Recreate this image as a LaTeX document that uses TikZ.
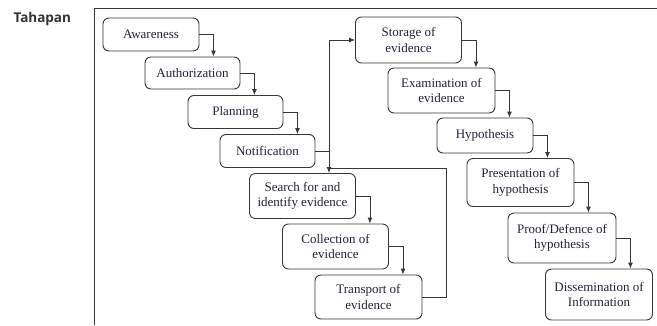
\documentclass[tikz,border=0pt]{standalone}
\usepackage{fontspec}
\setmainfont{Liberation Serif}
\newfontfamily\labelfont{Open Sans}
\usetikzlibrary{arrows.meta}
\definecolor{txt}{RGB}{35,35,55}
\definecolor{edge}{RGB}{55,55,55}
\tikzset{
  stage/.style={draw=edge, line width=0.9pt, rounded corners=6pt, fill=white,
    align=center, inner sep=1pt, text=txt, font=\fontsize{13}{15.5}\selectfont},
  arr/.style={draw=edge, line width=0.9pt, -{Latex[length=6pt,width=5pt]}},
  frame/.style={draw=edge, line width=0.9pt}
}
\begin{document}
\begin{tikzpicture}[x=1pt,y=-1pt]
\useasboundingbox (0,0) rectangle (657,325);
\node[anchor=base west, font=\labelfont\bfseries\fontsize{13.5}{16}\selectfont, text=black!80] (tah) at (10,22) {Tahapan};
\draw[frame] (94,325) -- (94,8) -- (657,8);
% left column
\node[stage, minimum width=96, minimum height=33] (aw) at (151,34.5) {Awareness};
\node[stage, minimum width=95, minimum height=32] (au) at (192.5,73) {Authorization};
\node[stage, minimum width=95, minimum height=33] (pl) at (235.5,112) {Planning};
\node[stage, minimum width=95, minimum height=33] (no) at (267.5,151) {Notification};
\node[stage, minimum width=106, minimum height=45] (se) at (302.5,196) {Search for and\\identify evidence};
\node[stage, minimum width=106, minimum height=45] (co) at (335.5,246.5) {Collection of\\evidence};
\node[stage, minimum width=107, minimum height=44] (tr) at (368.5,297) {Transport of\\evidence};
% right column
\node[stage, minimum width=106, minimum height=46] (st) at (408.5,40) {Storage of\\evidence};
\node[stage, minimum width=107, minimum height=45] (ex) at (441.5,90.5) {Examination of\\evidence};
\node[stage, minimum width=96, minimum height=35] (hy) at (485,135.5) {Hypothesis};
\node[stage, minimum width=107, minimum height=48] (pr) at (520.5,182.5) {Presentation of\\hypothesis};
\node[stage, minimum width=108, minimum height=50] (pd) at (562,238) {Proof/Defence of\\hypothesis};
\node[stage, minimum width=107, minimum height=51] (di) at (599,294.5) {Dissemination of\\Information};
% step connectors
\foreach \a/\b in {aw/au, au/pl, pl/no, se/co, co/tr, st/ex, ex/hy, hy/pr, pr/pd, pd/di}{
  \draw[arr] (\a.east) -- ++(14,0) coordinate (t\a) -- (t\a |- \b.north);
}
% loop connectors
\coordinate (j1) at (446,168);
\coordinate (j2) at (329,168);
\draw[arr] (tr.east) -| (j1) -- (j2) |- (st.west);
\draw[arr] (no.east) -- (no.east -| j2) -- (j2 |- se.north);
\end{tikzpicture}
\end{document}
